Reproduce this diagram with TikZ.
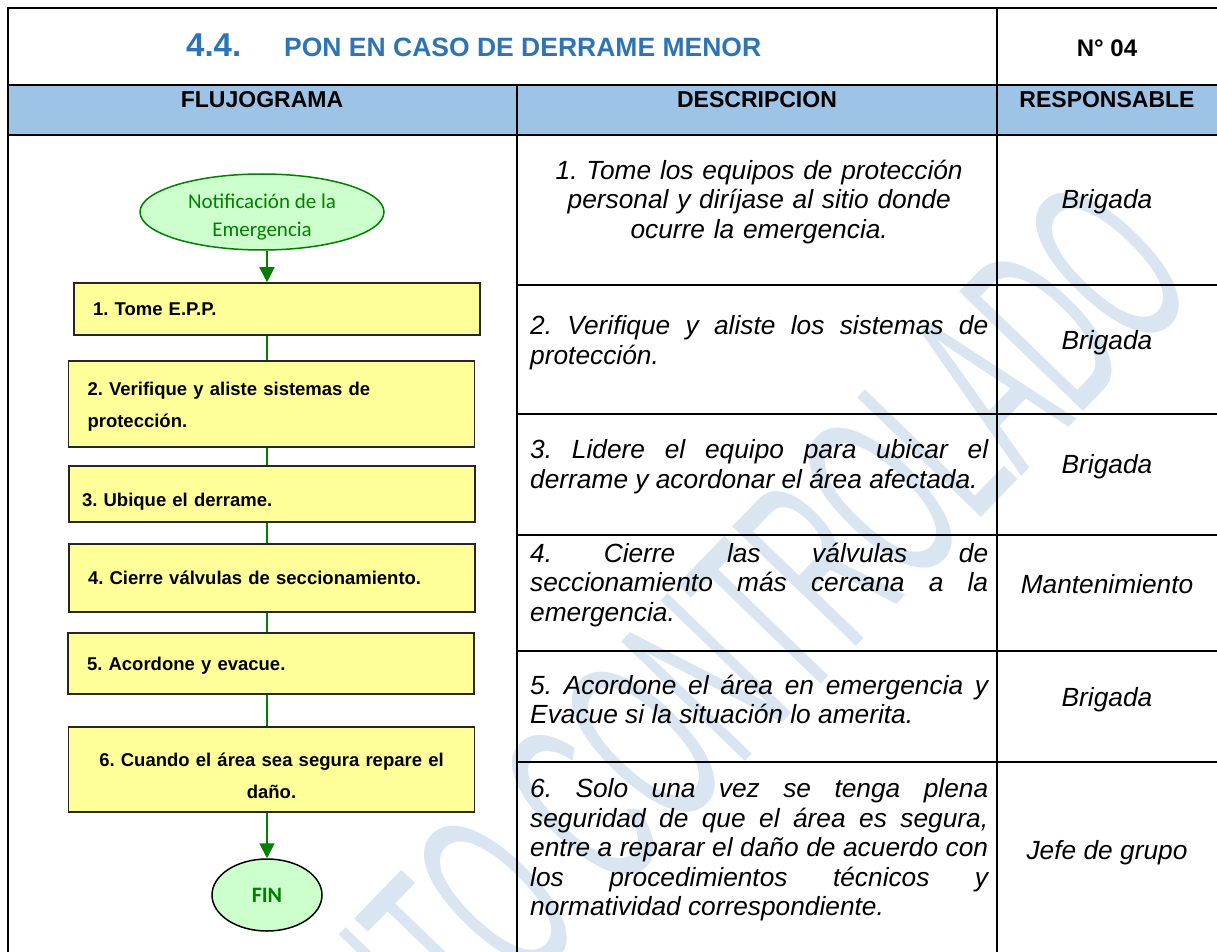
\documentclass[tikz,border=0pt]{standalone}
\usepackage{fontspec}
\setmainfont{Liberation Sans}
\newfontfamily\carlito{Carlito}
\usetikzlibrary{arrows.meta,positioning,shapes.geometric}
\definecolor{TitleBlue}{HTML}{2E74B5}
\definecolor{HeadBlue}{HTML}{9DC3E6}
\definecolor{Lemon}{HTML}{FFFF99}
\definecolor{Mint}{HTML}{CCFFCC}
\definecolor{Leaf}{HTML}{008000}
\definecolor{Mark}{HTML}{DAE5F2}
\newcommand{\fsz}[2]{\fontsize{#1}{#2}\selectfont}
\newcommand{\lift}[1]{\rule{0pt}{#1}}
\frenchspacing
\tolerance=9999
\hyphenpenalty=10000

\begin{document}
\begin{tikzpicture}[x=1pt,y=-1pt,
  rule/.style={line width=2.6pt,line cap=rect},
  stepbox/.style={draw=black!85,line width=1.6pt,fill=Lemon,inner xsep=19pt,inner ysep=0pt,
    text width=368pt,align=left,font=\fsz{18.5}{32}\bfseries},
  term/.style={ellipse,fill=Mint,line width=1.5pt,inner sep=0pt,text=Leaf,align=center},
  flow/.style={draw=Leaf,line width=1.8pt},
  tip/.style={-{Triangle[length=15pt,width=15pt]}},
  hd/.style={inner sep=0pt,font=\fsz{23}{26}\bfseries},
  desc/.style={anchor=west,inner sep=0pt,text width=458pt,align=justify,font=\fsz{26.3}{29.5}\itshape},
  resp/.style={inner sep=0pt,font=\fsz{26.3}{29.5}\itshape}]
\def\xD{530}\def\xR{1107}
\useasboundingbox (0,0) rectangle (1217,952);
\begin{scope}
  \clip (0,0) rectangle (1217,952);
  \node[text=Mark,rotate=46,inner sep=0pt,font=\fsz{250}{250}] (mark) at (562,828)
    {\scalebox{0.48}[1]{DOCUMENTO CONTROLADO}};
\end{scope}
\fill[HeadBlue] (8,85) rectangle (1217,135);
\draw[rule] (8,952) -- (8,8) -- (1217,8);
\draw[rule] (8,85) -- (1217,85);
\draw[rule] (8,135) -- (1217,135);
\draw[rule] (517,85) -- (517,952);
\draw[rule] (997,8) -- (997,952);
\foreach \y in {285,414,535,651,762}{\draw[rule] (517,\y) -- (1217,\y);}

\node[text=TitleBlue,inner sep=0pt,anchor=base west,font=\fsz{33}{36}\bfseries] (num) at (186,57) {4.4.};
\node[text=TitleBlue,inner sep=0pt,anchor=base west,font=\fsz{26.5}{30}\bfseries] (title) at (284,57) {PON EN CASO DE DERRAME MENOR};
\node[hd,font=\fsz{24}{26}\bfseries] (code) at (\xR,48) {N° 04};
\node[hd] (hflow) at (262,100) {FLUJOGRAMA};
\node[hd] (hdesc) at (757,100) {DESCRIPCION};
\node[hd] (hresp) at (\xR,100) {RESPONSABLE};

\coordinate (spine) at (267,0);
\node[term,draw=Leaf,minimum width=244pt,minimum height=76pt] (notif) at (262,212) {};
\node[text=Leaf,align=center,inner sep=0pt,font=\carlito\fsz{21}{28}] (notiftxt) at ([yshift=-5pt]notif.center)
  {Notificación de la\\Emergencia};
\node[stepbox,minimum height=52pt] (b1) at (277,309) {1. Tome E.P.P.};
\node[stepbox,minimum height=86pt] (b2) at (271.5,404) {\lift{19.5pt}2. Verifique y aliste sistemas de\\protección.};
\node[stepbox,minimum height=56pt,inner xsep=13pt,text width=380pt] (b3) at (272,494) {\lift{29.5pt}3. Ubique el derrame.};
\node[stepbox,minimum height=68pt] (b4) at (272,578) {4. Cierre válvulas de seccionamiento.};
\node[stepbox,minimum height=61pt] (b5) at (271,663.5) {\lift{17.5pt}5. Acordone y evacue.};
\node[stepbox,minimum height=85pt,align=center] (b6) at (271.5,769.5) {\lift{26.5pt}6. Cuando el área sea segura repare el\\daño.};
\node[term,draw=black,minimum width=110pt,minimum height=72pt,font=\carlito\fsz{22}{24}\bfseries] (fin) at (267,895) {FIN};
\draw[flow,tip] (notif.south -| spine) -- (b1.north -| spine);
\foreach \a/\b in {b1/b2,b2/b3,b3/b4,b4/b5,b5/b6}{\draw[flow] (\a.south -| spine) -- (\b.north -| spine);}
\draw[flow,tip] (b6.south -| spine) -- (fin.north -| spine);

\node[desc,align=center] (d1) at (\xD,202) {1. Tome los equipos de protección\\personal y diríjase al sitio donde\\ocurre la emergencia.};
\node[desc] (d2) at (\xD,342.5) {2. Verifique y aliste los sistemas de\linebreak protección.};
\node[desc] (d3) at (\xD,466.5) {3. Lidere el equipo para ubicar el\linebreak derrame y acordonar el área afectada.};
\node[desc] (d4) at (\xD,585) {4. Cierre las válvulas de\linebreak seccionamiento más cercana a la\linebreak emergencia.};
\node[desc] (d5) at (\xD,699.5) {5. Acordone el área en emergencia y\linebreak Evacue si la situación lo amerita.};
\node[desc] (d6) at (\xD,850) {6. Solo una vez se tenga plena\linebreak seguridad de que el área es segura,\linebreak entre a reparar el daño de acuerdo con\linebreak los procedimientos técnicos y\linebreak normatividad correspondiente.};
\node[resp] (r1) at (\xR,201.5) {Brigada};
\node[resp] (r2) at (\xR,342.5) {Brigada};
\node[resp] (r3) at (\xR,466.5) {Brigada};
\node[resp] (r4) at (\xR,584.5) {Mantenimiento};
\node[resp] (r5) at (\xR,699.5) {Brigada};
\node[resp] (r6) at (\xR,852.5) {Jefe de grupo};
\end{tikzpicture}
\end{document}
